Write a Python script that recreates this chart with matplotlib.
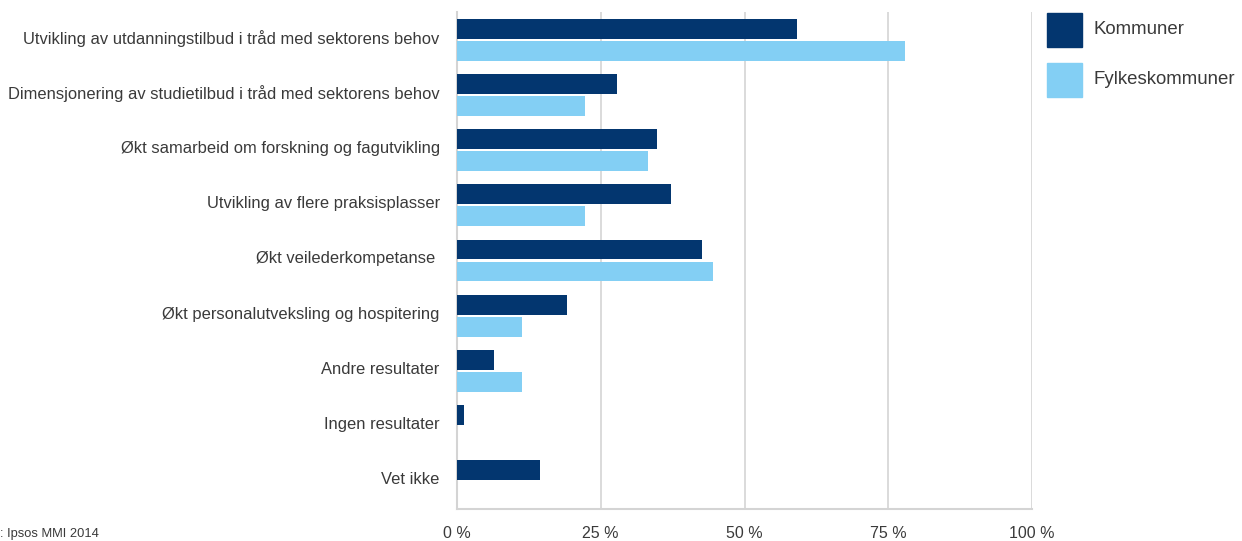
import numpy as np
import matplotlib
matplotlib.use("Agg")
from matplotlib import pyplot as plt
from matplotlib.patches import Patch
from matplotlib.transforms import ScaledTranslation

categories = [
    "Utvikling av utdanningstilbud i tråd med sektorens behov",
    "Dimensjonering av studietilbud i tråd med sektorens behov",
    "Økt samarbeid om forskning og fagutvikling",
    "Utvikling av flere praksisplasser",
    "Økt veilederkompetanse ",
    "Økt personalutveksling og hospitering",
    "Andre resultater",
    "Ingen resultater",
    "Vet ikke",
]
kommuner = [59.1, 27.8, 34.7, 37.2, 42.6, 19.1, 6.4, 1.2, 14.4]
fylkeskommuner = [77.9, 22.3, 33.3, 22.3, 44.5, 11.3, 11.3, 0, 0]
xticks = [0, 25, 50, 75, 100]
source = ": Ipsos MMI 2014"

dark = "#03366f"
light = "#83cff4"
grid = "#d4d4d4"
txt = "#3a3a3a"

plt.rcParams["font.family"] = ["Liberation Sans", "DejaVu Sans"]

fig = plt.figure(figsize=(12.42, 5.41), dpi=100)
ax = fig.add_axes([457 / 1242, 1 - 509 / 541, 575 / 1242, 497 / 541])

y = np.arange(len(categories))
h = 0.36
ax.barh(y - h / 2 - 0.02, kommuner, height=h, color=dark, zorder=3)
ax.barh(y + h / 2 + 0.02, fylkeskommuner, height=h, color=light, zorder=3)

ax.set_ylim(len(categories) - 0.5, -0.5)
ax.set_yticks(y)
ax.set_yticklabels(categories, fontsize=11.9, color=txt)
ax.set_xlim(0, 100)
ax.set_xticks(xticks)
ax.set_xticklabels([f"{t} %" for t in xticks], fontsize=11.5, color=txt)
ax.tick_params(axis="both", length=0)
ax.tick_params(axis="x", pad=12)
ax.tick_params(axis="y", pad=12.5)

# labels sit a little above the middle of each bar pair
shift = ScaledTranslation(0, 3 / 100, fig.dpi_scale_trans)
for lab in ax.get_yticklabels():
    lab.set_transform(lab.get_transform() + shift)

ax.grid(axis="x", color=grid, linewidth=1.2, zorder=0)
for side in ["top", "right"]:
    ax.spines[side].set_visible(False)
for side in ["left", "bottom"]:
    ax.spines[side].set_color(grid)
    ax.spines[side].set_linewidth(1.5)

handles = [Patch(color=dark, label="Kommuner"), Patch(color=light, label="Fylkeskommuner")]
fig.legend(handles=handles, loc="upper left", bbox_to_anchor=(1040 / 1242, 1 - 7 / 541),
           frameon=False, fontsize=13.4, handlelength=1.85, handleheight=1.85,
           labelspacing=1.25, handletextpad=0.6, labelcolor=txt, borderaxespad=0)
for p in fig.legends[0].get_patches():
    p.set_height(p.get_width())
    p.set_y(p.get_y() - 4)

fig.text(0, 1 - 534 / 541, source, fontsize=9.3, color=txt, va="center", ha="left")

fig.savefig("out.png", dpi=100)
